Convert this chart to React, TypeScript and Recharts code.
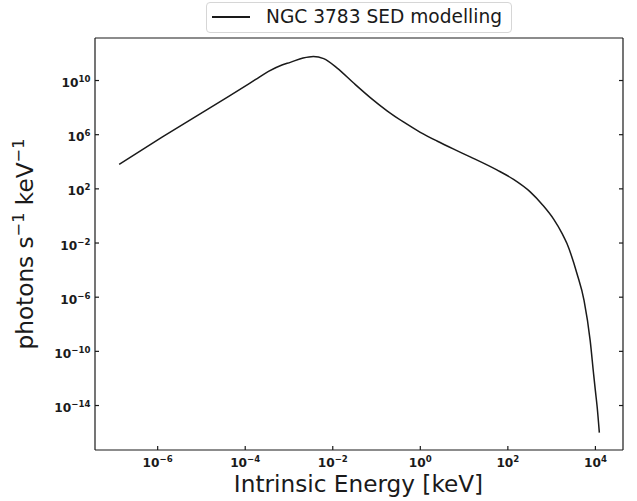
import { LineChart, Line, XAxis, YAxis, Label } from "recharts"

// energy [keV] and photon flux
const energy = [
    1.32e-7, 1.26e-6, 7.2e-6, 4.2e-5, 1.7e-4, 3.4e-4, 6.9e-4, 1.07e-3, 2.1e-3, 3.6e-3,
    6.2e-3, 1.26e-2, 3.0e-2, 7.2e-2, 0.174, 0.42, 1.0, 2.4, 5.8, 13.8,
    56, 135, 324, 630, 1120, 1740, 2240, 3800, 5500, 7600,
    9100, 10000, 11000, 12300,
]
const photons = [
    6.5e3, 6.5e5, 2.1e7, 6.8e8, 1.15e10, 4.7e10, 1.4e11, 2.2e11, 4.6e11, 6.0e11,
    4.1e11, 8.3e10, 6.5e9, 5.5e8, 5.8e7, 8.3e6, 1.5e6, 3.4e5, 8.5e4, 2.3e4,
    2.5e3, 500, 60, 6.2, 0.56, 0.05, 9.1e-3, 5.4e-5, 5.8e-7, 6.2e-10,
    2.1e-12, 1.2e-13, 7.1e-15, 1e-16,
]
const xTicks = [1e-6, 1e-4, 1e-2, 1e0, 1e2, 1e4]
const yTicks = [1e-14, 1e-10, 1e-6, 1e-2, 1e2, 1e6, 1e10]
const seriesName = "NGC 3783 SED modelling"

const data = energy.map((e, i) => ({ e, p: photons[i] }))

const FONT = "DejaVu Sans"
const INK = "#1a1a1a"

const expText = (v: number) => {
    const n = Math.round(Math.log10(v))
    return n < 0 ? "\u2212" + -n : String(n)
}

const BottomTick = ({ x, y, payload }: any) => (
    <g>
        <line x1={x} x2={x} y1={y} y2={y - 4} stroke={INK} strokeWidth={1.2} />
        <text x={x} y={y + 17} textAnchor="middle" fontFamily={FONT} fontWeight="bold" fontSize={12.2} fill={INK}>
            <tspan>10</tspan>
            <tspan dy={-5} fontSize={8.6}>{expText(payload.value)}</tspan>
        </text>
    </g>
)

const TopTick = ({ x, y }: any) => (
    <line x1={x} x2={x} y1={y} y2={y + 4} stroke={INK} strokeWidth={1.2} />
)

const LeftTick = ({ x, y, payload }: any) => (
    <g>
        <line x1={x} x2={x + 4} y1={y} y2={y} stroke={INK} strokeWidth={1.2} />
        <text x={x - 4.5} y={y + 6.5} textAnchor="end" fontFamily={FONT} fontWeight="bold" fontSize={12.2} fill={INK}>
            <tspan>10</tspan>
            <tspan dy={-5} fontSize={8.6}>{expText(payload.value)}</tspan>
        </text>
    </g>
)

const RightTick = ({ x, y }: any) => (
    <line x1={x} x2={x - 4} y1={y} y2={y} stroke={INK} strokeWidth={1.2} />
)

const xDomain = [3.7e-8, 4.27e4]
const yDomain = [5.2e-18, 1.38e13]

const axisCommon = {
    type: "number" as const,
    scale: "log" as const,
    allowDataOverflow: true,
    interval: 0,
    tickSize: 0,
    tickMargin: 0,
    tickLine: false,
    axisLine: { stroke: INK, strokeWidth: 1.2 },
}

export default function App() {
    return (
        <div style={{ position: "absolute", left: 0, top: 0, width: 637, height: 501, background: "#fff" }}>
            <LineChart width={637} height={501} data={data} margin={{ top: 37, right: 13, left: 94, bottom: 50 }}>
                <XAxis {...axisCommon} xAxisId="b" dataKey="e" domain={xDomain} ticks={xTicks} height={1} tick={<BottomTick />}>
                    <Label
                        content={() => (
                            <text x={358.5} y={492} textAnchor="middle" fontFamily={FONT} fontSize={23.2} fill={INK}>
                                Intrinsic Energy [keV]
                            </text>
                        )}
                    />
                </XAxis>
                <XAxis {...axisCommon} xAxisId="t" orientation="top" domain={xDomain} ticks={xTicks} height={1} tick={<TopTick />} />
                <YAxis {...axisCommon} yAxisId="l" domain={yDomain} ticks={yTicks} width={1} tick={<LeftTick />}>
                    <Label
                        content={() => (
                            <text
                                x={33}
                                y={244}
                                transform="rotate(-90 33 244)"
                                textAnchor="middle"
                                fontFamily={FONT}
                                fontSize={23.2}
                                fill={INK}
                            >
                                <tspan>photons s</tspan>
                                <tspan dy={-9} fontSize={16.2}>{"\u22121"}</tspan>
                                <tspan dy={9}> keV</tspan>
                                <tspan dy={-9} fontSize={16.2}>{"\u22121"}</tspan>
                            </text>
                        )}
                    />
                </YAxis>
                <YAxis {...axisCommon} yAxisId="r" orientation="right" domain={yDomain} ticks={yTicks} width={1} tick={<RightTick />} />
                <Line
                    xAxisId="b"
                    yAxisId="l"
                    dataKey="p"
                    name={seriesName}
                    type="monotone"
                    stroke={INK}
                    strokeWidth={1.5}
                    dot={false}
                    isAnimationActive={false}
                />
            </LineChart>
            <div
                style={{
                    position: "absolute",
                    left: 206,
                    top: 2,
                    width: 306,
                    height: 31,
                    border: "1px solid #d6d6d6",
                    borderRadius: 4,
                    background: "rgba(255,255,255,0.8)",
                    boxSizing: "border-box",
                }}
            >
                <div style={{ position: "absolute", left: 5, top: 13, width: 38, height: 1.5, background: INK }} />
                <div
                    style={{
                        position: "absolute",
                        left: 59,
                        top: 1,
                        fontFamily: FONT,
                        fontSize: 18.6,
                        lineHeight: "26px",
                        color: INK,
                        whiteSpace: "nowrap",
                    }}
                >
                    {seriesName}
                </div>
            </div>
        </div>
    )
}
